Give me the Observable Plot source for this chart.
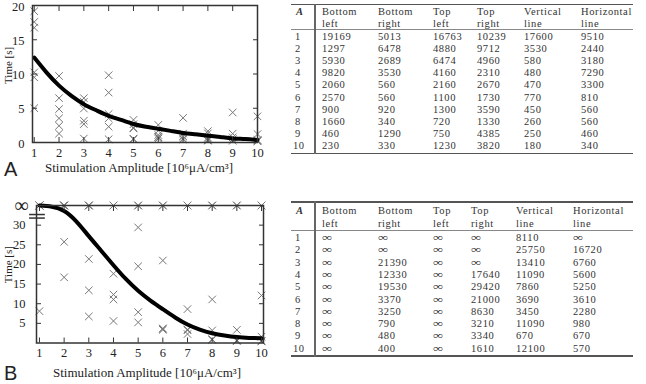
<!DOCTYPE html>
<html>
<head>
<meta charset="utf-8">
<script src="https://cdn.jsdelivr.net/npm/d3@7"></script>
<script src="https://cdn.jsdelivr.net/npm/@observablehq/plot@0.6"></script>
<style>
  html, body { margin: 0; padding: 0; background: #fff; }
  #root { position: relative; width: 646px; height: 384px; overflow: hidden; font-family: "Liberation Serif", serif; }
  .panel { position: absolute; }
  .letter { position: absolute; font-family: "Liberation Sans", sans-serif; font-size: 20px; color: #222; line-height: 20px; }
  .cell { position: absolute; font-family: "Liberation Serif", serif; font-size: 10.5px; letter-spacing: 0.6px; line-height: 11px; height: 11px; color: #333; white-space: nowrap; }
  .cell.inf { transform: scaleX(1.35); transform-origin: left center; letter-spacing: 0; }
  .head0 { font-style: italic; font-weight: bold; }
  .rule { position: absolute; background: #555; }
</style>
</head>
<body>
<div id="root"></div>
<script>
// ---------- data ----------
const amplitudes = [1, 2, 3, 4, 5, 6, 7, 8, 9, 10];
const columnHeads = [["Bottom", "left"], ["Bottom", "right"], ["Top", "left"], ["Top", "right"], ["Vertical", "line"], ["Horizontal", "line"]];

// Table A (ms)
const aBottomLeft  = [19169, 1297, 5930, 9820, 2060, 2570, 900, 1660, 460, 230];
const aBottomRight = [5013, 6478, 2689, 3530, 560, 560, 920, 340, 1290, 330];
const aTopLeft     = [16763, 4880, 6474, 4160, 2160, 1100, 1300, 720, 750, 1230];
const aTopRight    = [10239, 9712, 4960, 2310, 2670, 1730, 3590, 1330, 4385, 3820];
const aVertical    = [17600, 3530, 580, 480, 470, 770, 450, 260, 250, 180];
const aHorizontal  = [9510, 2440, 3180, 7290, 3300, 810, 560, 560, 460, 340];

// Table B (ms), Infinity = ∞
const bBottomLeft  = [Infinity, Infinity, Infinity, Infinity, Infinity, Infinity, Infinity, Infinity, Infinity, Infinity];
const bBottomRight = [Infinity, Infinity, 21390, 12330, 19530, 3370, 3250, 790, 480, 400];
const bTopLeft     = [Infinity, Infinity, Infinity, Infinity, Infinity, Infinity, Infinity, Infinity, Infinity, Infinity];
const bTopRight    = [Infinity, Infinity, Infinity, 17640, 29420, 21000, 8630, 3210, 3340, 1610];
const bVertical    = [8110, 25750, 13410, 11090, 7860, 3690, 3450, 11090, 670, 12100];
const bHorizontal  = [Infinity, 16720, 6760, 5600, 5250, 3610, 2280, 980, 670, 570];

// fitted curves (seconds)
const fitX  = [1, 1.5, 2, 2.5, 3, 3.5, 4, 4.5, 5, 5.5, 6, 6.5, 7, 7.5, 8, 8.5, 9, 9.5, 10];
const fitAy = [12.4, 10.2, 8.3, 6.8, 5.6, 4.7, 3.9, 3.3, 2.7, 2.3, 2.0, 1.7, 1.4, 1.2, 1.0, 0.8, 0.6, 0.5, 0.35];
const fitBy = [35, 34.7, 33.6, 30.9, 27.2, 23.5, 19.8, 16.3, 13.3, 10.8, 8.6, 6.5, 4.7, 3.4, 2.5, 1.9, 1.5, 1.3, 1.2];

// axis ticks
const yTicksA = [0, 5, 10, 15, 20];
const yTicksB = [5, 10, 15, 20, 25, 30];
const infLevel = 35;          // where ∞ sits on the B axis
const breakMarks = [31.8, 32.7];
const xLabel = "Stimulation Amplitude [10⁶μA/cm³]";
const yLabel = "Time [s]";

const seriesA = [aBottomLeft, aBottomRight, aTopLeft, aTopRight, aVertical, aHorizontal];
const seriesB = [bBottomLeft, bBottomRight, bTopLeft, bTopRight, bVertical, bHorizontal];

const pointsA = seriesA.flatMap(s => s.map((v, i) => ({x: amplitudes[i], y: v / 1000})));
const pointsB = seriesB.flatMap(s => s.map((v, i) => ({x: amplitudes[i], y: v === Infinity ? infLevel : v / 1000})));
const curveA = fitX.map((x, i) => ({x, y: fitAy[i]}));
const curveB = fitX.map((x, i) => ({x, y: fitBy[i]}));

const root = document.getElementById("root");
const style = {fontFamily: "Liberation Serif, serif", fontSize: "12px", color: "#222", background: "transparent", overflow: "visible"};

// ---------- Plot A ----------
const plotA = Plot.plot({
  width: 290, height: 184,
  marginLeft: 32, marginRight: 33, marginTop: 5, marginBottom: 42,
  style,
  x: {domain: [0.93, 10]},
  y: {domain: [0, 20]},
  marks: [
    Plot.dot(pointsA, {x: "x", y: "y", symbol: "times", r: 3.5, stroke: "#777", strokeWidth: 1}),
    Plot.line(curveA, {x: "x", y: "y", curve: "natural", stroke: "#000", strokeWidth: 4}),
    Plot.frame({stroke: "#333", strokeWidth: 1.5}),
    Plot.axisX(amplitudes, {anchor: "bottom", tickSize: 0, tickPadding: 6, label: null, fontSize: 12.5}),
    Plot.axisX(amplitudes, {anchor: "bottom", tickSize: -5, tickFormat: () => "", label: null, stroke: "#333"}),
    Plot.axisX(amplitudes, {anchor: "top", tickSize: -5, tickFormat: () => "", label: null, stroke: "#333"}),
    Plot.axisY(yTicksA, {anchor: "left", tickSize: 0, tickPadding: 8, label: null, fontSize: 12.5, dy: 1}),
    Plot.axisY(yTicksA, {anchor: "left", tickSize: -5, tickFormat: () => "", label: null, stroke: "#333"}),
    Plot.axisY(yTicksA, {anchor: "right", tickSize: -5, tickFormat: () => "", label: null, stroke: "#333"}),
    Plot.text([yLabel], {frameAnchor: "left", rotate: -90, dx: -24, dy: 10, fontSize: 11, fill: "#222"}),
    Plot.text([xLabel], {frameAnchor: "bottom", dx: -6, dy: 29.5, fontSize: 13, fill: "#222"})
  ]
});
plotA.classList.add("panel");
plotA.style.left = "0px"; plotA.style.top = "0px";
root.appendChild(plotA);

// ---------- Plot B ----------
const plotB = Plot.plot({
  width: 290, height: 189,
  marginLeft: 36, marginRight: 27, marginTop: 10, marginBottom: 41.5,
  style,
  x: {domain: [0.88, 10.08]},
  y: {domain: [0, infLevel]},
  marks: [
    Plot.dot(pointsB, {x: "x", y: "y", symbol: "times", r: 3.5, stroke: "#777", strokeWidth: 1}),
    Plot.line(curveB, {x: "x", y: "y", curve: "natural", stroke: "#000", strokeWidth: 4}),
    Plot.frame({stroke: "#333", strokeWidth: 1.5}),
    Plot.ruleY(breakMarks, {x1: 0.6, x2: 1.24, stroke: "#333", strokeWidth: 1.5}),
    Plot.axisX(amplitudes, {anchor: "bottom", tickSize: 0, tickPadding: 5, label: null, fontSize: 12.5}),
    Plot.axisX(amplitudes, {anchor: "bottom", tickSize: -5, tickFormat: () => "", label: null, stroke: "#333"}),
    Plot.axisX(amplitudes, {anchor: "top", tickSize: -5, tickFormat: () => "", label: null, stroke: "#333"}),
    Plot.axisY(yTicksB, {anchor: "left", tickSize: 0, tickPadding: 11, label: null, fontSize: 12.5}),
    Plot.axisY([infLevel], {anchor: "left", tickSize: 0, tickPadding: 8, label: null, fontSize: 20, tickFormat: () => "∞"}),
    Plot.axisY(yTicksB, {anchor: "left", tickSize: -5, tickFormat: () => "", label: null, stroke: "#333"}),
    Plot.axisY(yTicksB, {anchor: "right", tickSize: -5, tickFormat: () => "", label: null, stroke: "#333"}),
    Plot.text([yLabel], {frameAnchor: "left", rotate: -90, dx: -28, dy: 9, fontSize: 11, fill: "#222"}),
    Plot.text([xLabel], {frameAnchor: "bottom", dx: -3, dy: 33.5, fontSize: 13, fill: "#222"})
  ]
});
plotB.classList.add("panel");
plotB.style.left = "0px"; plotB.style.top = "195px";
root.appendChild(plotB);

// ---------- panel letters ----------
for (const [t, top] of [["A", 159], ["B", 363]]) {
  const d = document.createElement("div");
  d.className = "letter"; d.textContent = t;
  d.style.left = "4px"; d.style.top = top + "px";
  root.appendChild(d);
}

// ---------- tables ----------
function addRule(x, y, w, h, color) {
  const r = document.createElement("div");
  r.className = "rule";
  Object.assign(r.style, {left: x + "px", top: y + "px", width: w + "px", height: h + "px", background: color});
  root.appendChild(r);
}
function addCell(text, x, cy, cls) {
  const d = document.createElement("div");
  d.className = "cell" + (cls ? " " + cls : "");
  d.textContent = text;
  d.style.left = x + "px";
  d.style.top = (cy - 5.5) + "px";
  root.appendChild(d);
}
function makeTable(series, layout) {
  const {left, right, ruleTop, head1, head2, ruleHead, row0, rowStep, ruleBottom, cols, idxX, vRule} = layout;
  addRule(left, ruleTop, right - left, 1.5, "#555");
  addRule(left, ruleHead, right - left, 1, "#888");
  addRule(left, ruleBottom, right - left, 1.5, "#555");
  addRule(vRule, ruleTop, 2, ruleBottom - ruleTop + 1.5, "#666");
  addCell("A", idxX + 1, head1, "head0");
  columnHeads.forEach(([l1, l2], j) => {
    addCell(l1, cols[j], head1);
    addCell(l2, cols[j], head2);
  });
  amplitudes.forEach((a, i) => {
    const cy = row0 + i * rowStep;
    addCell(String(a), a >= 10 ? idxX - 2 : idxX, cy);
    series.forEach((s, j) => {
      const v = s[i];
      if (v === Infinity) addCell("∞", cols[j], cy, "inf");
      else addCell(String(v), cols[j], cy);
    });
  });
}
makeTable(seriesA, {left: 291, right: 633, ruleTop: 3.5, head1: 11.3, head2: 23.3, ruleHead: 29, row0: 36, rowStep: 12.2,
  ruleBottom: 152.5, cols: [322, 378, 433, 477, 524, 581], idxX: 295, vRule: 314});
makeTable(seriesB, {left: 291, right: 633, ruleTop: 201, head1: 210, head2: 223, ruleHead: 230, row0: 237.5, rowStep: 12.3,
  ruleBottom: 355, cols: [322, 378, 433, 471, 516, 573], idxX: 295, vRule: 314});
</script>
</body>
</html>
